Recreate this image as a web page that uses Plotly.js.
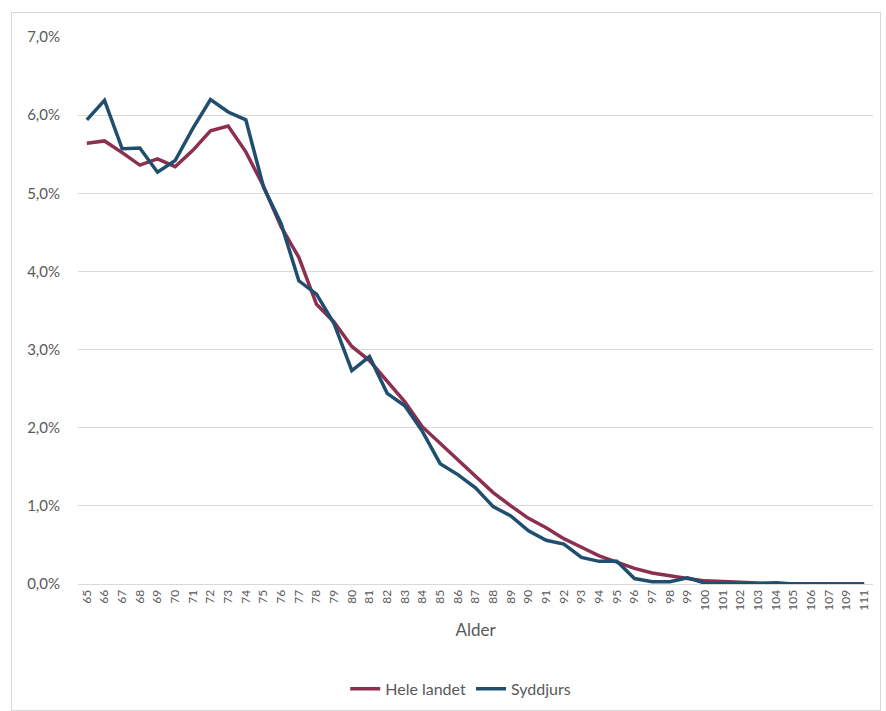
<!DOCTYPE html>
<html>
<head>
<meta charset="utf-8">
<script src="https://cdn.plot.ly/plotly-3.0.1.min.js"></script>
<style>
body{margin:0;padding:0;background:#fff;}
#chart{width:886px;height:711px;position:relative;}
#frame{position:absolute;left:11px;top:12px;width:868px;height:697px;border:1px solid #d9d9d9;pointer-events:none;}
</style>
</head>
<body>
<div id="chart"></div>
<div id="frame"></div>
<script>
var ages = ['65','66','67','68','69','70','71','72','73','74','75','76','77','78','79','80','81','82','83','84','85','86','87','88','89','90','91','92','93','94','95','96','97','98','99','100','101','102','103','104','105','106','107','109','111'];
// percent values
var heleLandet = [5.64,5.67,5.52,5.36,5.44,5.34,5.55,5.80,5.86,5.53,5.09,4.57,4.18,3.58,3.35,3.04,2.86,2.60,2.33,2.01,1.80,1.58,1.37,1.17,1.00,0.84,0.72,0.58,0.47,0.36,0.28,0.20,0.14,0.10,0.07,0.04,0.03,0.015,0.008,0.005,0.003,0.002,0.001,0.001,0.0];
var syddjurs = [5.94,6.19,5.57,5.58,5.27,5.42,5.83,6.20,6.04,5.94,5.08,4.61,3.88,3.71,3.33,2.73,2.91,2.44,2.28,1.95,1.54,1.40,1.23,0.99,0.87,0.68,0.56,0.51,0.34,0.29,0.29,0.07,0.03,0.03,0.08,0.01,0.005,0.0,0.0,0.015,0.0,0.0,0.0,0.0,0.0];

function frac(a){return a.map(function(v){return v/100;});}

var traces = [
  {x: ages, y: frac(heleLandet), name: 'Hele landet', type: 'scatter', mode: 'lines',
   line: {color: '#8c2f50', width: 3.5}},
  {x: ages, y: frac(syddjurs), name: 'Syddjurs', type: 'scatter', mode: 'lines',
   line: {color: '#1f4e6e', width: 3.5}}
];

var layout = {
  width: 886, height: 711,
  margin: {l: 78, r: 13, t: 37, b: 127},
  paper_bgcolor: '#ffffff', plot_bgcolor: '#ffffff',
  separators: ',.',
  font: {family: 'Lato, "Open Sans", sans-serif', color: '#595959'},
  showlegend: true,
  legend: {orientation: 'h', x: 0.52, xref: 'container', xanchor: 'center',
           y: 0.031, yref: 'container', yanchor: 'middle',
           font: {size: 16, color: '#595959'}, traceorder: 'normal'},
  xaxis: {type: 'category', range: [-0.5, 44.5], tickangle: -90, automargin: false,
          tickfont: {size: 12, color: '#595959'}, showgrid: false, showline: true,
          linecolor: '#d9d9d9', linewidth: 1, ticks: '', fixedrange: true,
          title: {text: 'Alder', font: {size: 17, color: '#595959'}, standoff: 14}},
  yaxis: {range: [0, 0.07], dtick: 0.01, tickformat: '.1%', automargin: false,
          tickfont: {size: 15, color: '#595959'}, gridcolor: '#d9d9d9', gridwidth: 1,
          zeroline: false, showline: false, ticks: '', ticklabelstandoff: 17, fixedrange: true}
};

Plotly.newPlot('chart', traces, layout, {displayModeBar: false, staticPlot: true});
</script>
</body>
</html>
